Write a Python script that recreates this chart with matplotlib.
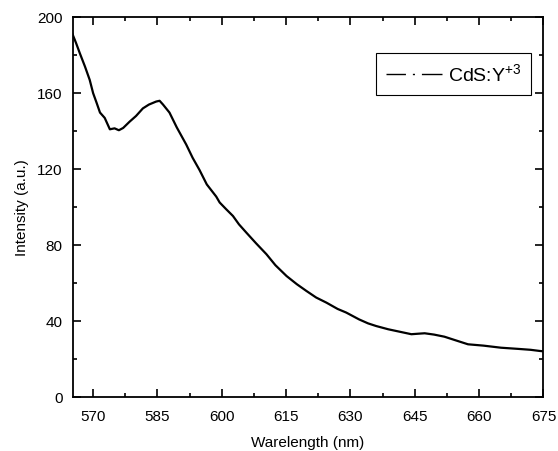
import matplotlib.pyplot as plt
from matplotlib.lines import Line2D
from matplotlib.ticker import MultipleLocator

plt.rcParams['font.family'] = ['Liberation Sans', 'DejaVu Sans']
plt.rcParams['mathtext.fontset'] = 'custom'
plt.rcParams['mathtext.rm'] = 'Liberation Sans'
plt.rcParams['mathtext.it'] = 'Liberation Sans'

# wavelength (nm) and intensity (a.u.)
wavelength = [565.2, 566.0, 566.9, 568.1, 569.2, 570.0, 570.8, 571.6, 572.7, 573.9,
              575.0, 576.0, 577.0, 578.5, 580.0, 581.6, 583.0, 584.7, 585.5, 586.3,
              587.8, 589.5, 591.7, 593.2, 594.8, 596.5, 598.7, 599.5, 601.0, 602.6,
              604.0, 605.7, 608.0, 610.4, 612.5, 615.1, 617.5, 619.7, 622.0, 624.4,
              627.0, 629.0, 632.0, 634.1, 636.0, 638.8, 641.5, 644.2, 646.0, 647.3,
              649.5, 651.9, 654.5, 657.4, 661.0, 665.1, 669.0, 672.0, 674.1, 675.0]
intensity = [191.0, 186.5, 181.0, 174.0, 167.0, 160.0, 155.0, 149.8, 147.0, 141.0,
             141.5, 140.5, 141.7, 145.0, 148.0, 152.0, 154.0, 155.6, 156.0, 154.0,
             149.8, 142.0, 133.0, 126.0, 119.6, 112.0, 105.6, 102.5, 99.0, 95.4,
             91.0, 86.7, 81.0, 75.3, 69.5, 63.8, 59.5, 56.0, 52.5, 49.8,
             46.5, 44.6, 41.0, 38.9, 37.5, 35.8, 34.5, 33.2, 33.5, 33.7,
             33.0, 31.9, 30.0, 27.9, 27.2, 26.1, 25.5, 25.0, 24.4, 24.2]

fig = plt.figure(figsize=(5.58, 4.51), dpi=100)
ax = fig.add_axes([0.130, 0.119, 0.844, 0.843])

ax.plot(wavelength, intensity, color='black', lw=1.6)

ax.set_xlim(565.2, 675)
ax.set_ylim(0, 200)
ax.xaxis.set_major_locator(MultipleLocator(15))
ax.xaxis.set_minor_locator(MultipleLocator(7.5))
ax.yaxis.set_major_locator(MultipleLocator(40))
ax.yaxis.set_minor_locator(MultipleLocator(20))
ax.tick_params(which='both', direction='in', top=True, right=True, labelsize=11, width=1.2)
ax.tick_params(which='major', length=6)
ax.tick_params(axis='x', which='major', pad=9)
ax.tick_params(axis='y', which='major', pad=7)
ax.tick_params(which='minor', length=3)
for s in ax.spines.values():
    s.set_linewidth(1.3)

ax.set_xlabel('Warelength (nm)', fontsize=11, labelpad=9)
ax.set_ylabel('Intensity (a.u.)', fontsize=11, labelpad=6)

handle = Line2D([], [], color='black', lw=1.0, linestyle=(0, (14, 5, 1.5, 5, 40, 1)))
leg = ax.legend([handle], ['CdS:Y$^{+3}$'], loc='upper right', bbox_to_anchor=(0.974, 0.905),
                borderaxespad=0, fontsize=14, fancybox=False, framealpha=1, edgecolor='black',
                handlelength=2.9, borderpad=0.5, handletextpad=0.3)
leg.get_frame().set_linewidth(0.8)

fig.savefig('out.png', dpi=100)
